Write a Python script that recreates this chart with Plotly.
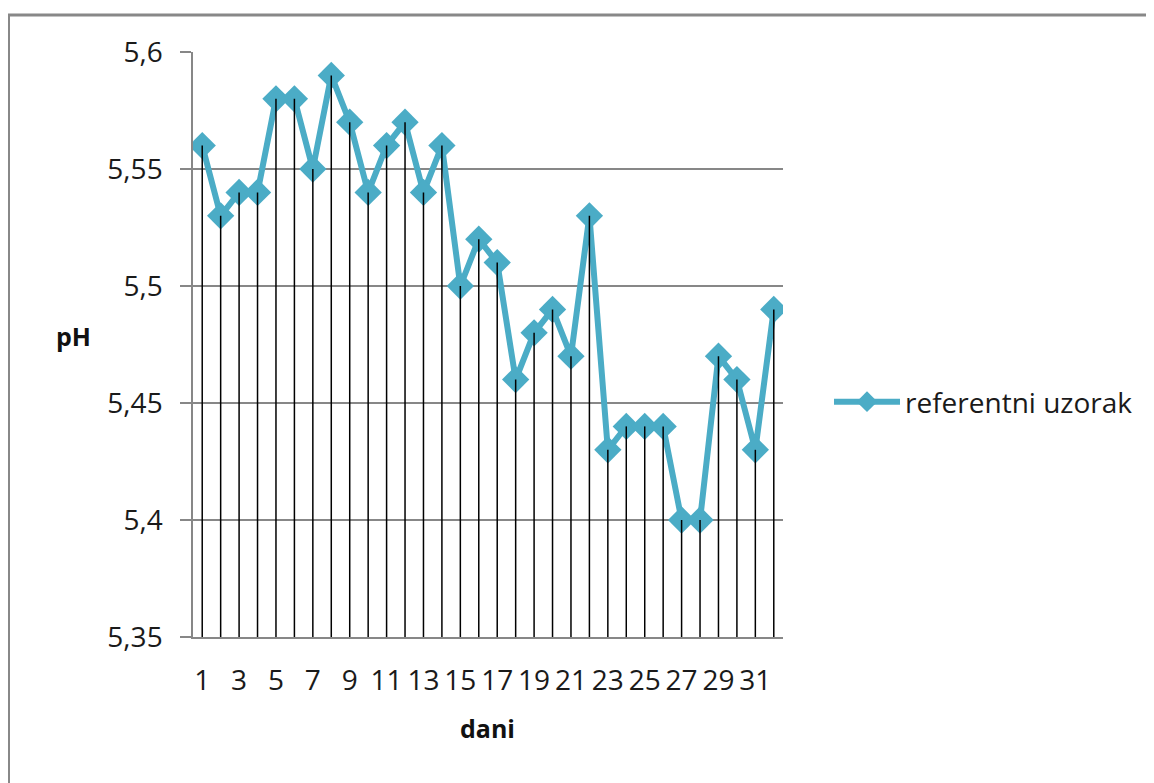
import plotly.graph_objects as go

days = list(range(1, 33))
ph_values = [5.56, 5.53, 5.54, 5.54, 5.58, 5.58, 5.55, 5.59, 5.57, 5.54,
             5.56, 5.57, 5.54, 5.56, 5.50, 5.52, 5.51, 5.46, 5.48, 5.49,
             5.47, 5.53, 5.43, 5.44, 5.44, 5.44, 5.40, 5.40, 5.47, 5.46,
             5.43, 5.49]
x_tick_vals = list(range(1, 33, 2))
y_min, y_max, y_step = 5.35, 5.6, 0.05
series_name = "referentni uzorak"
x_title = "dani"
y_title = "pH"

LINE_COLOR = "#4BACC6"
GRID_COLOR = "#878787"
TEXT_COLOR = "#1a1a1a"
FONT = "Open Sans"

# drop lines from each point down to the axis minimum
drop_x, drop_y = [], []
for d, v in zip(days, ph_values):
    drop_x += [d, d, None]
    drop_y += [v, y_min, None]

fig = go.Figure()
fig.add_trace(go.Scatter(
    x=days, y=ph_values, mode="lines+markers", name=series_name,
    line=dict(color=LINE_COLOR, width=6),
    marker=dict(symbol="diamond", size=21, color=LINE_COLOR),
))
fig.add_trace(go.Scatter(
    x=drop_x, y=drop_y, mode="lines", showlegend=False, hoverinfo="skip",
    line=dict(color="black", width=1.5),
))

OFF = 8  # page body margin
W, H = 1154 - OFF, 783 - OFF
L, R, T, B = 193 - OFF, 783 - OFF, 52 - OFF, 637 - OFF
pw, ph = R - L, B - T

def px(xs):
    return (xs - OFF - L) / pw

def py(ys):
    return (B - (ys - OFF)) / ph

fig.update_layout(
    width=W, height=H,
    margin=dict(l=L, r=W - R, t=T, b=H - B),
    paper_bgcolor="white", plot_bgcolor="white",
    separators=", ",
    font=dict(family=FONT, size=28, color=TEXT_COLOR),
    showlegend=True,
    legend=dict(x=px(829), y=py(402), xanchor="left", yanchor="middle",
                font=dict(family=FONT, size=28, color=TEXT_COLOR),
                itemwidth=66, bgcolor="rgba(0,0,0,0)"),
    xaxis=dict(range=[0.5, 32.5], tickmode="array", tickvals=x_tick_vals,
               ticktext=[str(v) for v in x_tick_vals], tickangle=0,
               showgrid=False, zeroline=False, showline=True,
               linecolor=GRID_COLOR, linewidth=1.5, ticks="",
               ticklabelstandoff=18,
               tickfont=dict(family=FONT, size=28, color=TEXT_COLOR)),
    yaxis=dict(range=[y_min, y_max], tick0=y_min, dtick=y_step,
               showgrid=True, gridcolor=GRID_COLOR, gridwidth=1.5,
               zeroline=False, showline=True, linecolor=GRID_COLOR,
               linewidth=1.5, ticks="outside", ticklen=11,
               tickcolor=GRID_COLOR, tickwidth=1.5, ticklabelstandoff=12,
               tickfont=dict(family=FONT, size=28, color=TEXT_COLOR)),
    annotations=[
        dict(text="<b>" + y_title + "</b>", xref="paper", yref="paper",
             x=px(74), y=py(336), xanchor="center", yanchor="middle",
             showarrow=False, font=dict(family=FONT, size=25, color="#111111")),
        dict(text="<b>" + x_title + "</b>", xref="paper", yref="paper",
             x=px(487), y=py(728), xanchor="center", yanchor="middle",
             showarrow=False, font=dict(family=FONT, size=25, color="#111111")),
    ],
    shapes=[
        dict(type="rect", xref="paper", yref="paper",
             x0=px(8.5), x1=px(1170), y0=py(800), y1=py(15),
             line=dict(color="#888888", width=3), fillcolor="rgba(0,0,0,0)",
             layer="below"),
    ],
)

fig.write_html("out.html")
